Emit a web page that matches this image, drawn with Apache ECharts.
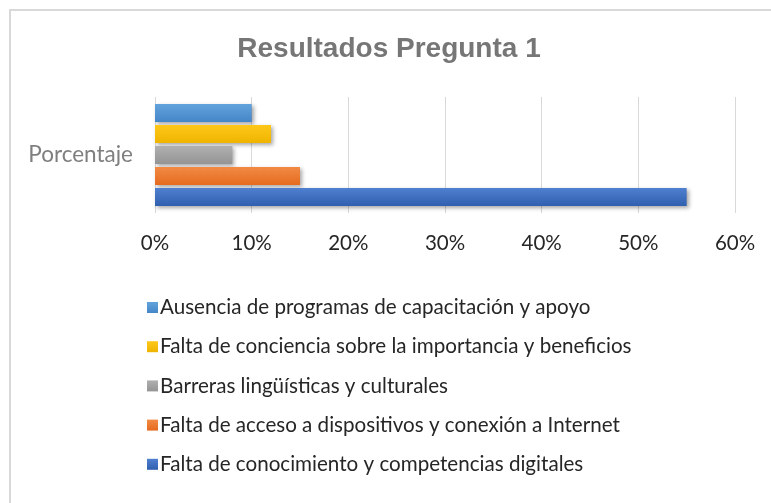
<!DOCTYPE html>
<html>
<head>
<meta charset="utf-8">
<title>Resultados Pregunta 1</title>
<script src="https://cdn.jsdelivr.net/npm/echarts@6/dist/echarts.min.js"></script>
<style>
  html, body { margin: 0; padding: 0; background: #fff; }
  #chart { width: 771px; height: 503px; }
</style>
</head>
<body>
<div id="chart"></div>
<script>
// categorias del eje
const categories = ["Porcentaje"];
// series de arriba hacia abajo
const seriesNames = [
  "Ausencia de programas de capacitación y apoyo",
  "Falta de conciencia sobre la importancia y beneficios",
  "Barreras lingüísticas y culturales",
  "Falta de acceso a dispositivos y conexión a Internet",
  "Falta de conocimiento y competencias digitales"
];
const seriesValues = [10, 12, 8, 15, 55];
const seriesColors = [
  ["#63a3dc", "#4586c8"],
  ["#ffc81a", "#eeb400"],
  ["#b0b0b0", "#949494"],
  ["#f28a44", "#e56b1f"],
  ["#4f7fcf", "#2f5fae"]
];
const xTicks = { min: 0, max: 60, interval: 10 };

const chart = echarts.init(document.getElementById("chart"));

const series = seriesNames.map((name, i) => {
  return {
    name: name,
    type: "bar",
    data: [seriesValues[i]],
    barWidth: 18,
    barGap: "17%",
    itemStyle: {
      color: new echarts.graphic.LinearGradient(0, 0, 0, 1, [
        { offset: 0, color: seriesColors[i][0] },
        { offset: 1, color: seriesColors[i][1] }
      ]),
      shadowColor: "rgba(0,0,0,0.35)",
      shadowBlur: 4,
      shadowOffsetX: 2,
      shadowOffsetY: 2
    }
  };
});

chart.setOption({
  animation: false,
  color: seriesColors.map(c => c[1]),
  title: {
    text: "Resultados Pregunta 1",
    left: 384,
    textAlign: "center",
    top: 30,
    textStyle: {
      fontFamily: "Liberation Sans",
      fontSize: 28,
      fontWeight: "bold",
      color: "#767676"
    }
  },
  graphic: [{
    type: "rect",
    shape: { x: 10, y: 10, width: 800, height: 600 },
    style: { fill: "none", stroke: "#d9d9d9", lineWidth: 2 },
    silent: true
  }],
  legend: {
    orient: "vertical",
    left: 147,
    top: 297,
    padding: 0,
    itemWidth: 11,
    itemHeight: 11,
    itemGap: 18.2,
    icon: "rect",
    data: seriesNames,
    textStyle: {
      fontFamily: "Lato",
      fontSize: 20.6,
      color: "#262626",
      padding: [0, 0, 0, -3]
    }
  },
  grid: {
    left: 155,
    right: 36,
    top: 97,
    bottom: 290,
    containLabel: false
  },
  xAxis: {
    type: "value",
    min: xTicks.min,
    max: xTicks.max,
    interval: xTicks.interval,
    axisLine: { show: false },
    axisTick: { show: false },
    axisLabel: {
      formatter: "{value}%",
      fontFamily: "Lato",
      fontSize: 20.5,
      color: "#262626",
      margin: 20
    },
    splitLine: { lineStyle: { color: "#d9d9d9", width: 1 } }
  },
  yAxis: {
    type: "category",
    data: categories,
    axisLine: { show: false },
    axisTick: { show: false },
    axisLabel: {
      fontFamily: "Lato",
      fontSize: 22.5,
      color: "#7f7f7f",
      margin: 22
    }
  },
  series: series
});
</script>
</body>
</html>
